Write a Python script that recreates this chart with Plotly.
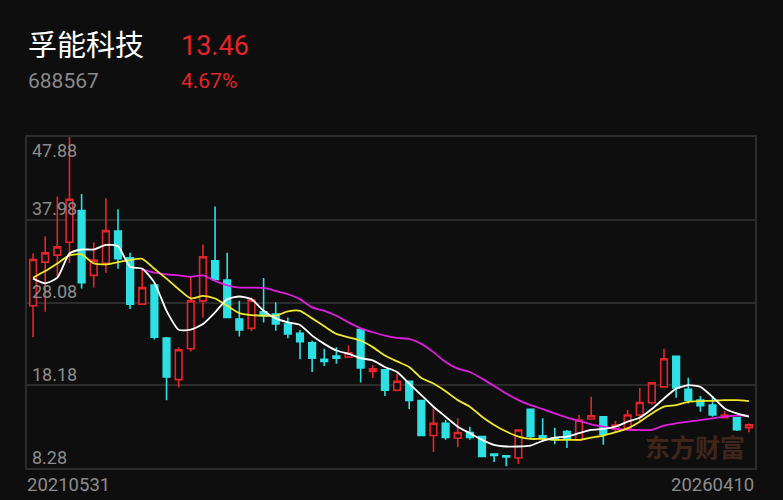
import plotly.graph_objects as go
import pandas as pd

# monthly candles, 2021-05 .. 2026-04
months = [str(p) for p in pd.period_range('2021-05', periods=60, freq='M')]

opens = [27.69, 32.91, 33.75, 35.29, 39.09, 31.33, 32.76, 36.64, 33.43, 27.88,
         30.18, 23.84, 18.85, 22.54, 28.28, 33.07, 30.77, 26.10, 24.98, 26.98,
         26.70, 25.50, 24.40, 23.25, 21.27, 21.67, 21.55, 24.83, 19.84, 20.04,
         17.59, 18.66, 16.36, 12.16, 13.63, 11.84, 12.52, 12.04, 9.94, 9.75,
         9.47, 15.29, 12.12, 11.84, 12.64, 11.65, 14.14, 14.42, 12.95, 13.03,
         14.62, 16.08, 17.98, 21.63, 17.70, 16.40, 15.80, 14.30, 14.30, 13.10]
highs = [33.94, 36.00, 40.76, 47.88, 41.07, 35.29, 40.56, 39.25, 34.02, 32.04,
         30.18, 23.96, 22.74, 31.25, 35.01, 39.57, 34.02, 28.28, 28.68, 31.00,
         28.10, 26.30, 24.80, 23.50, 22.54, 22.74, 22.93, 24.83, 20.64, 20.04,
         19.57, 18.66, 16.36, 15.41, 14.02, 14.22, 13.23, 12.04, 9.94, 9.75,
         12.83, 15.29, 14.22, 13.11, 12.83, 14.62, 16.79, 14.42, 13.90, 15.21,
         17.86, 18.58, 22.54, 21.75, 19.09, 16.90, 16.90, 15.09, 14.30, 13.63]
lows = [23.92, 26.97, 31.25, 32.80, 29.75, 29.86, 31.65, 32.12, 27.29, 27.88,
        23.65, 16.40, 17.90, 22.22, 26.30, 30.85, 26.30, 24.00, 24.66, 25.70,
        24.70, 23.80, 21.30, 19.77, 20.48, 20.75, 21.43, 18.50, 19.05, 16.90,
        17.47, 15.33, 12.16, 10.18, 11.65, 10.77, 11.65, 9.67, 8.99, 8.48,
        8.76, 11.76, 11.65, 11.13, 10.66, 11.50, 14.14, 11.05, 12.44, 13.03,
        13.75, 15.88, 17.98, 16.68, 16.00, 15.01, 14.42, 14.22, 12.70, 12.56]
closes = [33.23, 34.02, 34.74, 40.44, 30.46, 33.15, 36.68, 33.31, 27.88, 29.86,
          23.92, 19.17, 22.42, 28.28, 33.55, 30.85, 26.30, 24.79, 28.36, 26.50,
          25.50, 24.32, 23.40, 21.43, 21.03, 21.43, 22.06, 20.24, 20.16, 17.59,
          18.66, 16.36, 12.16, 13.63, 11.92, 12.52, 11.92, 9.67, 9.78, 9.59,
          12.83, 12.04, 11.84, 11.69, 11.76, 14.02, 14.54, 12.32, 13.43, 14.62,
          16.12, 18.46, 21.35, 17.86, 16.40, 15.72, 14.62, 14.62, 12.86, 13.46]

# moving-average lines
ma_white = [30.93, 30.38, 31.05, 33.94, 34.42, 34.42, 34.97, 34.81, 32.36, 32.12,
            30.46, 27.09, 24.83, 24.83, 25.50, 26.90, 28.48, 28.80, 28.48, 27.09,
            26.18, 25.70, 25.39, 24.12, 23.13, 22.34, 21.94, 21.43, 21.15, 20.36,
            19.77, 18.38, 16.99, 15.61, 14.42, 13.23, 12.44, 11.65, 11.05, 10.85,
            10.85, 10.97, 11.53, 11.92, 12.04, 12.44, 12.83, 12.95, 13.23, 13.82,
            14.30, 15.33, 16.60, 17.78, 18.18, 17.98, 16.79, 15.41, 14.81, 14.42]
ma_yellow = [31.05, 31.84, 32.76, 33.71, 33.83, 32.76, 32.64, 32.91, 33.15, 33.31,
             32.12, 30.93, 29.67, 28.56, 28.87, 28.56, 27.69, 26.82, 26.58, 26.50,
             26.50, 27.01, 27.09, 26.18, 25.23, 24.32, 23.92, 23.53, 22.74, 21.75,
             21.03, 20.36, 19.05, 18.38, 17.47, 16.40, 15.61, 14.42, 13.43, 12.64,
             12.04, 11.76, 11.76, 11.65, 11.65, 11.65, 11.92, 12.16, 12.56, 13.03,
             13.82, 14.81, 15.61, 15.80, 16.20, 16.28, 16.32, 16.40, 16.40, 16.28]
ma_magenta = [None] * 9 + [
    32.04, 31.65, 31.45, 31.33, 31.17, 31.33, 30.66, 30.14, 29.86, 29.86,
    29.82, 29.47, 29.07, 28.48, 27.49, 27.09, 26.50, 25.70, 24.99, 24.52,
    24.12, 23.84, 23.72, 23.13, 22.14, 20.95, 20.16, 19.77, 18.97, 18.10,
    17.19, 16.40, 15.80, 15.33, 14.81, 14.30, 13.90, 13.51, 13.23, 12.95,
    12.83, 12.83, 12.83, 13.35, 13.63, 13.82, 14.02, 14.22, 14.42, 14.54, 14.54]

tick_vals = [8.28, 18.18, 28.08, 37.98, 47.88]

BG = '#0e0e0e'
RED = '#e3262b'
CYAN = '#2ee0e3'
GRID = '#2c2c2c'
FONT = 'Roboto, Noto Sans CJK SC, sans-serif'

# plot area in pixels
L, R, T, B = 27, 755, 137, 468


def px(x):
    return (x - L) / (R - L)


def py(y):
    return (B - y) / (B - T)


fig = go.Figure()

fig.add_trace(go.Candlestick(
    x=months, open=opens, high=highs, low=lows, close=closes,
    increasing=dict(line=dict(color=RED, width=1.6), fillcolor=BG),
    decreasing=dict(line=dict(color=CYAN, width=1.6), fillcolor=CYAN),
    whiskerwidth=0,
    showlegend=False,
))

for vals, color in [(ma_magenta, '#e01ee0'), (ma_yellow, '#f2e92a'), (ma_white, '#ffffff')]:
    fig.add_trace(go.Scatter(
        x=months, y=vals, mode='lines',
        line=dict(color=color, width=1.8, shape='spline', smoothing=0.6),
        showlegend=False, hoverinfo='skip',
    ))

annotations = []
# header
annotations.append(dict(x=px(26), y=py(46), text='孚能科技', font=dict(size=29, color='#ffffff')))
annotations.append(dict(x=px(179), y=py(46), text='13.46', font=dict(size=27, color=RED)))
annotations.append(dict(x=px(26), y=py(81), text='688567', font=dict(size=21, color='#8a8a8a')))
annotations.append(dict(x=px(179), y=py(81), text='4.67%', font=dict(size=21, color=RED)))

# y labels inside the plot
for v in tick_vals:
    ypix = B - (v - 8.28) / (47.88 - 8.28) * (B - T)
    cy = ypix + 13 if v == tick_vals[-1] else ypix - 11
    annotations.append(dict(x=px(30), y=py(cy), text=f'{v:.2f}',
                            font=dict(size=18, color='#8c8c8c')))

# dates
annotations.append(dict(x=px(25), y=py(485), text='20210531', font=dict(size=18.5, color='#8c8c8c')))
annotations.append(dict(x=px(756), y=py(485), text='20260410', xanchor='right',
                        font=dict(size=18.5, color='#8c8c8c')))

# watermark
annotations.append(dict(x=px(695), y=py(448), text='<b>东方财富</b>', xanchor='center',
                        font=dict(size=25, color='#40261a')))

for a in annotations:
    a.setdefault('xanchor', 'left')
    a.update(xref='paper', yref='paper', yanchor='middle', showarrow=False)

fig.update_layout(
    width=783, height=500,
    margin=dict(l=L, r=783 - R, t=T, b=500 - B),
    paper_bgcolor=BG, plot_bgcolor=BG,
    font=dict(family=FONT),
    annotations=annotations,
    hovermode=False,
    boxgap=0.22,
)
fig.update_xaxes(
    type='category', range=[-0.5, 59.5], rangeslider_visible=False,
    showgrid=False, showticklabels=False, zeroline=False,
    showline=True, mirror=True, linecolor=GRID, linewidth=1.5,
)
fig.update_yaxes(
    range=[8.28, 47.88], tickvals=tick_vals, showticklabels=False,
    gridcolor=GRID, gridwidth=1.5, zeroline=False,
    showline=True, mirror=True, linecolor=GRID, linewidth=1.5,
)

fig.write_html('out.html', config={'displayModeBar': False},
               post_script="document.body.style.margin='0';document.body.style.background='#0e0e0e';")
